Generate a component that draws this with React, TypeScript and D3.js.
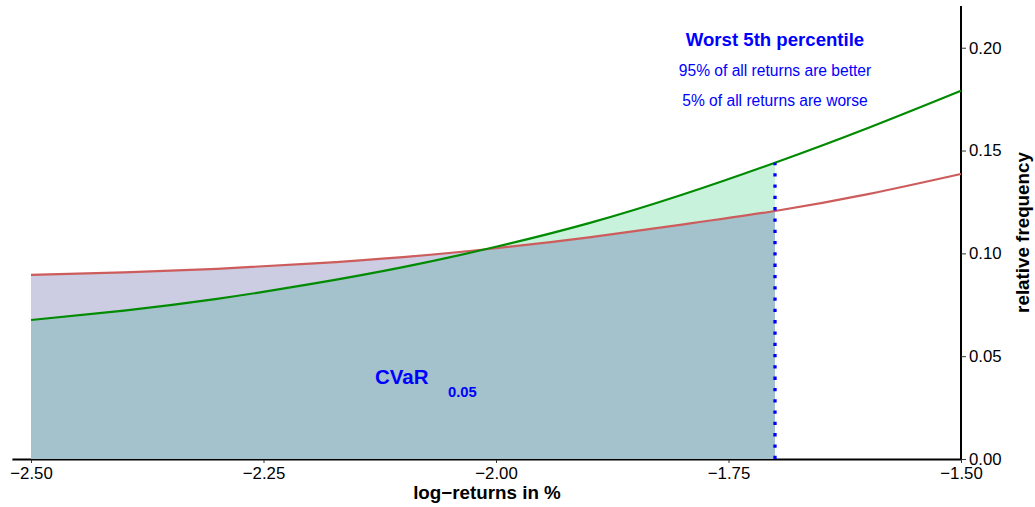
import { useEffect, useRef } from 'react';
import * as d3 from 'd3';

// log-returns in %
const xs = [-2.5, -2.4, -2.3, -2.2, -2.1, -2.0, -1.9, -1.8, -1.7, -1.6, -1.5];
// density curves
const greenDensity = [0.0676, 0.0722, 0.0779, 0.085, 0.0933, 0.1032, 0.1147, 0.1285, 0.1441, 0.161, 0.1791];
const redDensity = [0.0895, 0.0908, 0.0925, 0.095, 0.0982, 0.1025, 0.1078, 0.114, 0.1206, 0.1288, 0.1386];

const xTicks = [-2.5, -2.25, -2.0, -1.75, -1.5];
const yTicks = [0, 0.05, 0.1, 0.15, 0.2];
const varCutoff = -1.7;

const W = 1035;
const H = 507;

const App = () => {
  const svgRef = useRef<SVGSVGElement>(null);

  useEffect(() => {
    if (!svgRef.current) return;
    const svg = d3.select(svgRef.current);
    svg.selectAll('*').remove();

    const x = d3.scaleLinear().domain([-2.52, -1.5]).range([12.4, 961]);
    const y = d3.scaleLinear().domain([0, 0.22]).range([459, 6.6]);

    const green = xs.map((v, i) => [v, greenDensity[i]] as [number, number]);
    const red = xs.map((v, i) => [v, redDensity[i]] as [number, number]);
    const greenTail = green.filter(d => d[0] <= varCutoff);
    const redTail = red.filter(d => d[0] <= varCutoff);

    const area = d3.area<[number, number]>()
      .x(d => x(d[0]))
      .y0(y(0))
      .y1(d => y(d[1]))
      .curve(d3.curveNatural);
    const line = d3.line<[number, number]>()
      .x(d => x(d[0]))
      .y(d => y(d[1]))
      .curve(d3.curveNatural);

    const font = '"Liberation Sans", Arial, sans-serif';

    // axis lines
    svg.append('line')
      .attr('x1', 12.4).attr('x2', 962)
      .attr('y1', 459.5).attr('y2', 459.5)
      .attr('stroke', '#000').attr('stroke-width', 2);
    svg.append('line')
      .attr('x1', 961).attr('x2', 961)
      .attr('y1', 6).attr('y2', 460)
      .attr('stroke', '#000').attr('stroke-width', 2);

    // filled tails
    svg.append('clipPath').attr('id', 'under-green')
      .append('path').attr('d', area(greenTail));
    svg.append('path').attr('d', area(redTail)).attr('fill', '#cccde3');
    svg.append('path').attr('d', area(greenTail)).attr('fill', '#c9f2dd');
    svg.append('path').attr('d', area(redTail)).attr('fill', '#a3c2cb')
      .attr('clip-path', 'url(#under-green)');

    // density lines
    svg.append('path').attr('d', line(red))
      .attr('fill', 'none').attr('stroke', '#cd5c5c').attr('stroke-width', 2.2);
    svg.append('path').attr('d', line(green))
      .attr('fill', 'none').attr('stroke', '#008b00').attr('stroke-width', 2.2);

    // VaR cutoff
    svg.append('line')
      .attr('x1', x(varCutoff)).attr('x2', x(varCutoff))
      .attr('y1', y(0)).attr('y2', y(greenDensity[xs.indexOf(varCutoff)]))
      .attr('stroke', '#0000ff').attr('stroke-width', 3.3)
      .attr('stroke-dasharray', '3.3 8');

    // x axis ticks
    const xAxis = svg.append('g')
      .attr('transform', 'translate(0,460)')
      .call(d3.axisBottom(x).tickValues(xTicks).tickSize(3).tickPadding(4)
        .tickFormat(d3.format('.2f')));
    xAxis.select('.domain').remove();
    xAxis.selectAll('text').attr('font-family', font).attr('font-size', 16.8).attr('fill', '#000');
    xAxis.selectAll('line').attr('stroke', '#333');

    // y axis ticks on the right
    const yAxis = svg.append('g')
      .attr('transform', 'translate(961,0)')
      .call(d3.axisRight(y).tickValues(yTicks).tickSize(5).tickPadding(3)
        .tickFormat(d3.format('.2f')));
    yAxis.select('.domain').remove();
    yAxis.selectAll('text').attr('font-family', font).attr('font-size', 16.8).attr('fill', '#000');
    yAxis.selectAll('line').attr('stroke', '#333');

    // axis titles
    svg.append('text')
      .attr('x', 487).attr('y', 499)
      .attr('text-anchor', 'middle')
      .attr('font-family', font).attr('font-weight', 'bold').attr('font-size', 18.8)
      .text('log−returns in %');
    svg.append('text')
      .attr('transform', 'translate(1029,232.5) rotate(-90)')
      .attr('text-anchor', 'middle')
      .attr('font-family', font).attr('font-weight', 'bold').attr('font-size', 18.8)
      .text('relative frequency');

    // annotations
    const cx = x(varCutoff);
    svg.append('text')
      .attr('x', cx).attr('y', 46)
      .attr('text-anchor', 'middle')
      .attr('font-family', font).attr('font-weight', 'bold').attr('font-size', 18.6)
      .attr('fill', '#0000ff')
      .text('Worst 5th percentile');
    svg.append('text')
      .attr('x', cx).attr('y', 76)
      .attr('text-anchor', 'middle')
      .attr('font-family', font).attr('font-size', 15.6)
      .attr('fill', '#0000ff')
      .text('95% of all returns are better');
    svg.append('text')
      .attr('x', cx).attr('y', 106)
      .attr('text-anchor', 'middle')
      .attr('font-family', font).attr('font-size', 15.6)
      .attr('fill', '#0000ff')
      .text('5% of all returns are worse');

    svg.append('text')
      .attr('x', 375).attr('y', 384)
      .attr('font-family', font).attr('font-weight', 'bold').attr('font-size', 20.5)
      .attr('fill', '#0000ff')
      .text('CVaR');
    svg.append('text')
      .attr('x', 448).attr('y', 397)
      .attr('font-family', font).attr('font-weight', 'bold').attr('font-size', 14.8)
      .attr('fill', '#0000ff')
      .text('0.05');
  }, []);

  return (
    <svg
      ref={svgRef}
      width={W}
      height={H}
      style={{ position: 'absolute', left: 0, top: 0, background: '#fff' }}
    />
  );
};

export default App;
